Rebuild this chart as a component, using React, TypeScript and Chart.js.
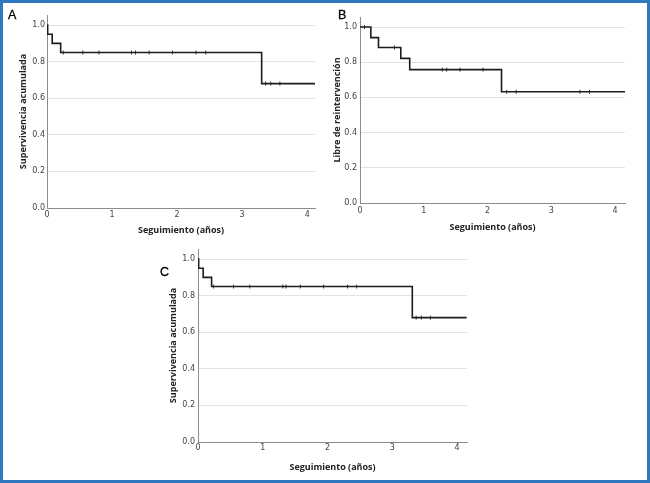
import React, { useEffect, useRef } from "react";
import { Chart, registerables } from "chart.js";

Chart.register(...registerables);

// ---- Panel A: survival (Supervivencia acumulada) ----
const stepTimesA = [0, 0.01, 0.08, 0.21, 3.3, 4.12];
const stepSurvA = [1.0, 0.95, 0.9, 0.85, 0.68, 0.68];
const censorTimesA = [0.25, 0.55, 0.8, 1.3, 1.36, 1.57, 1.93, 2.29, 2.44, 3.36, 3.44, 3.58];
const censorSurvA = [0.85, 0.85, 0.85, 0.85, 0.85, 0.85, 0.85, 0.85, 0.85, 0.68, 0.68, 0.68];

// ---- Panel B: free of reintervention ----
const stepTimesB = [0, 0.17, 0.29, 0.64, 0.78, 2.22, 4.16];
const stepSurvB = [1.0, 0.94, 0.884, 0.822, 0.758, 0.632, 0.632];
const censorTimesB = [0.07, 0.54, 1.29, 1.36, 1.57, 1.93, 2.3, 2.45, 3.45, 3.6];
const censorSurvB = [1.0, 0.884, 0.758, 0.758, 0.758, 0.758, 0.632, 0.632, 0.632, 0.632];

// ---- Panel C: survival (Supervivencia acumulada) ----
const stepTimesC = [0, 0.01, 0.08, 0.21, 3.31, 4.15];
const stepSurvC = [1.0, 0.95, 0.9, 0.85, 0.68, 0.68];
const censorTimesC = [0.24, 0.55, 0.8, 1.31, 1.36, 1.58, 1.94, 2.31, 2.45, 3.37, 3.45, 3.59];
const censorSurvC = [0.85, 0.85, 0.85, 0.85, 0.85, 0.85, 0.85, 0.85, 0.85, 0.68, 0.68, 0.68];

// ---- Axis ticks and labels ----
const yTickValues = [0, 0.2, 0.4, 0.6, 0.8, 1.0];
const xTickValues = [0, 1, 2, 3, 4];
const xTitle = "Seguimiento (años)";
const yTitleA = "Supervivencia acumulada";
const yTitleB = "Libre de reintervención";
const yTitleC = "Supervivencia acumulada";

type Geo = {
  left: number;
  top: number;
  width: number;
  height: number;
  padTop: number;
  padRight: number;
  yAxisWidth: number;
  xAxisHeight: number;
  yTitlePad: number;
  xTitlePad: number;
  xTickPad: number;
  yTickPad: number;
  xMax: number;
  yMax: number;
};

type PanelProps = {
  geo: Geo;
  times: number[];
  surv: number[];
  cTimes: number[];
  cSurv: number[];
  yTitle: string;
};

const TICK_FONT = { family: "'DejaVu Sans', sans-serif", size: 8 };
const TITLE_FONT = { family: "'Open Sans', sans-serif", size: 9, weight: "bold" as const };

function KMPanel({ geo, times, surv, cTimes, cSurv, yTitle }: PanelProps) {
  const ref = useRef<HTMLCanvasElement | null>(null);
  useEffect(() => {
    if (!ref.current) return;
    const chart = new Chart(ref.current, {
      type: "scatter",
      data: {
        datasets: [
          {
            type: "line",
            data: times.map((t, i) => ({ x: t, y: surv[i] })),
            stepped: "before",
            showLine: true,
            borderColor: "#1c1c1c",
            borderWidth: 1.6,
            pointRadius: 0,
            fill: false,
          } as any,
          {
            type: "scatter",
            data: cTimes.map((t, i) => ({ x: t, y: cSurv[i] })),
            showLine: false,
            pointStyle: "line",
            rotation: 90,
            pointRadius: 2,
            borderColor: "#333",
            borderWidth: 1,
          } as any,
        ],
      },
      options: {
        responsive: false,
        animation: false,
        layout: { padding: { top: geo.padTop, right: geo.padRight, left: 0, bottom: 0 } },
        plugins: { legend: { display: false }, tooltip: { enabled: false } },
        scales: {
          x: {
            type: "linear",
            min: 0,
            max: geo.xMax,
            afterBuildTicks: (s: any) => {
              s.ticks = xTickValues.map((v) => ({ value: v }));
            },
            afterFit: (s: any) => {
              s.height = geo.xAxisHeight;
            },
            grid: { display: false, drawTicks: false },
            border: { display: true, color: "#8c8c8c", width: 1 },
            ticks: {
              font: TICK_FONT,
              color: "#444",
              padding: geo.xTickPad,
              maxRotation: 0,
              callback: (v: any) => String(v),
            },
            title: {
              display: true,
              text: xTitle,
              font: TITLE_FONT,
              color: "#222",
              padding: { top: 0, bottom: geo.xTitlePad },
            },
          },
          y: {
            type: "linear",
            min: 0,
            max: geo.yMax,
            afterBuildTicks: (s: any) => {
              s.ticks = yTickValues.map((v) => ({ value: v }));
            },
            afterFit: (s: any) => {
              s.width = geo.yAxisWidth;
            },
            grid: { display: true, drawTicks: false, color: "#e2e2e2", lineWidth: 1 },
            border: { display: true, color: "#8c8c8c", width: 1 },
            ticks: {
              font: TICK_FONT,
              color: "#444",
              padding: geo.yTickPad,
              callback: (v: any) => Number(v).toFixed(1),
            },
            title: {
              display: true,
              text: yTitle,
              font: TITLE_FONT,
              color: "#222",
              padding: { top: geo.yTitlePad, bottom: 0 },
            },
          },
        },
      } as any,
    });
    return () => chart.destroy();
  }, []);
  return (
    <canvas
      ref={ref}
      width={geo.width}
      height={geo.height}
      style={{ position: "absolute", left: geo.left, top: geo.top, width: geo.width, height: geo.height }}
    />
  );
}

const geoA: Geo = {
  left: 5, top: 5, width: 315, height: 238, padTop: 10, padRight: 5,
  yAxisWidth: 42, xAxisHeight: 35, yTitlePad: 12.6, xTitlePad: 7.6,
  xTickPad: 2, yTickPad: 2, xMax: 4.12, yMax: 1.055,
};
const geoB: Geo = {
  left: 325, top: 5, width: 305, height: 238, padTop: 12, padRight: 5,
  yAxisWidth: 35, xAxisHeight: 40, yTitlePad: 6.6, xTitlePad: 10.6,
  xTickPad: 3, yTickPad: 3, xMax: 4.157, yMax: 1.057,
};
const geoC: Geo = {
  left: 150, top: 240, width: 322, height: 238, padTop: 9, padRight: 5,
  yAxisWidth: 48, xAxisHeight: 36, yTitlePad: 17.6, xTitlePad: 5.6,
  xTickPad: 1, yTickPad: 3, xMax: 4.155, yMax: 1.055,
};

const letterStyle: React.CSSProperties = {
  position: "absolute",
  fontFamily: "'Liberation Sans', Arial, sans-serif",
  fontSize: 12.5,
  lineHeight: "12px",
  color: "#000",
  WebkitTextStroke: "0.3px #000",
};

export default function App() {
  return (
    <div
      style={{
        position: "fixed",
        left: 0,
        top: 0,
        width: 650,
        height: 483,
        background: "#fff",
        overflow: "hidden",
      }}
    >
      <KMPanel geo={geoA} times={stepTimesA} surv={stepSurvA} cTimes={censorTimesA} cSurv={censorSurvA} yTitle={yTitleA} />
      <KMPanel geo={geoB} times={stepTimesB} surv={stepSurvB} cTimes={censorTimesB} cSurv={censorSurvB} yTitle={yTitleB} />
      <KMPanel geo={geoC} times={stepTimesC} surv={stepSurvC} cTimes={censorTimesC} cSurv={censorSurvC} yTitle={yTitleC} />
      <div style={{ ...letterStyle, left: 8, top: 9 }}>A</div>
      <div style={{ ...letterStyle, left: 338, top: 8.5 }}>B</div>
      <div style={{ ...letterStyle, left: 160, top: 265.5 }}>C</div>
      <div
        style={{
          position: "absolute",
          left: 0,
          top: 0,
          width: 650,
          height: 483,
          boxSizing: "border-box",
          border: "3px solid #2f78be",
          pointerEvents: "none",
        }}
      />
    </div>
  );
}
